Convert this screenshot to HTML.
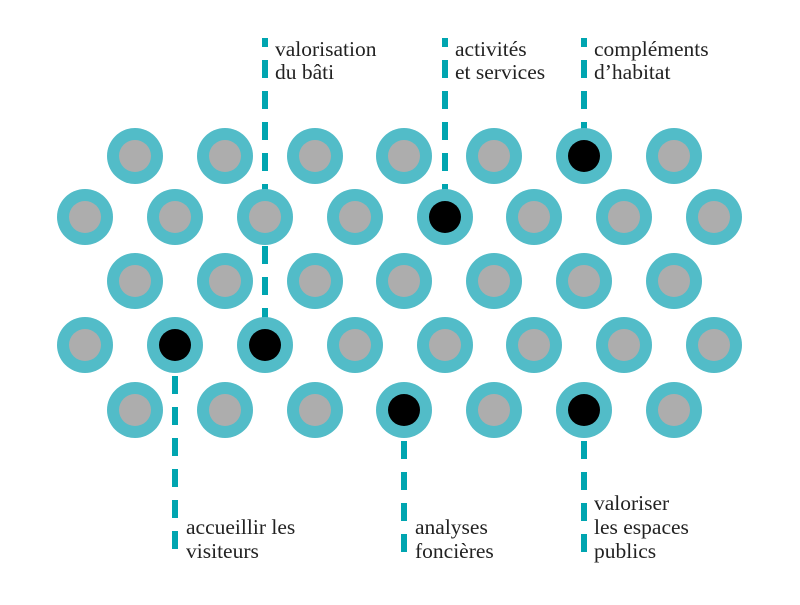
<!DOCTYPE html>
<html><head><meta charset="utf-8"><style>html,body{margin:0;padding:0;background:#fff}</style></head>
<body>
<svg width="800" height="600" viewBox="0 0 800 600" xmlns="http://www.w3.org/2000/svg">
<g stroke="#00a5b0" stroke-width="6" stroke-dasharray="18 13" fill="none">
<line x1="265" y1="38" x2="265" y2="345" stroke-dashoffset="9"/>
<line x1="445" y1="38" x2="445" y2="217" stroke-dashoffset="9"/>
<line x1="584" y1="38" x2="584" y2="156" stroke-dashoffset="9"/>
<line x1="175" y1="345" x2="175" y2="562"/>
<line x1="404" y1="410" x2="404" y2="562"/>
<line x1="584" y1="410" x2="584" y2="562"/>
</g>
<g font-family="'Liberation Serif', serif" font-size="21.5" fill="#222">
<text x="275" y="56">valorisation</text><text x="275" y="79">du bâti</text>
<text x="455" y="56">activités</text><text x="455" y="79">et services</text>
<text x="594" y="56">compléments</text><text x="594" y="79">d’habitat</text>
<text x="186" y="534">accueillir les</text><text x="186" y="558">visiteurs</text>
<text x="415" y="534">analyses</text><text x="415" y="558">foncières</text>
<text x="594" y="510">valoriser</text><text x="594" y="534">les espaces</text><text x="594" y="558">publics</text>
</g>
<g>
<circle cx="135" cy="156" r="28" fill="#52bcc8"/><circle cx="135" cy="156" r="16" fill="#adadad"/>
<circle cx="225" cy="156" r="28" fill="#52bcc8"/><circle cx="225" cy="156" r="16" fill="#adadad"/>
<circle cx="315" cy="156" r="28" fill="#52bcc8"/><circle cx="315" cy="156" r="16" fill="#adadad"/>
<circle cx="404" cy="156" r="28" fill="#52bcc8"/><circle cx="404" cy="156" r="16" fill="#adadad"/>
<circle cx="494" cy="156" r="28" fill="#52bcc8"/><circle cx="494" cy="156" r="16" fill="#adadad"/>
<circle cx="584" cy="156" r="28" fill="#52bcc8"/><circle cx="584" cy="156" r="16" fill="#000"/>
<circle cx="674" cy="156" r="28" fill="#52bcc8"/><circle cx="674" cy="156" r="16" fill="#adadad"/>
<circle cx="85" cy="217" r="28" fill="#52bcc8"/><circle cx="85" cy="217" r="16" fill="#adadad"/>
<circle cx="175" cy="217" r="28" fill="#52bcc8"/><circle cx="175" cy="217" r="16" fill="#adadad"/>
<circle cx="265" cy="217" r="28" fill="#52bcc8"/><circle cx="265" cy="217" r="16" fill="#adadad"/>
<circle cx="355" cy="217" r="28" fill="#52bcc8"/><circle cx="355" cy="217" r="16" fill="#adadad"/>
<circle cx="445" cy="217" r="28" fill="#52bcc8"/><circle cx="445" cy="217" r="16" fill="#000"/>
<circle cx="534" cy="217" r="28" fill="#52bcc8"/><circle cx="534" cy="217" r="16" fill="#adadad"/>
<circle cx="624" cy="217" r="28" fill="#52bcc8"/><circle cx="624" cy="217" r="16" fill="#adadad"/>
<circle cx="714" cy="217" r="28" fill="#52bcc8"/><circle cx="714" cy="217" r="16" fill="#adadad"/>
<circle cx="135" cy="281" r="28" fill="#52bcc8"/><circle cx="135" cy="281" r="16" fill="#adadad"/>
<circle cx="225" cy="281" r="28" fill="#52bcc8"/><circle cx="225" cy="281" r="16" fill="#adadad"/>
<circle cx="315" cy="281" r="28" fill="#52bcc8"/><circle cx="315" cy="281" r="16" fill="#adadad"/>
<circle cx="404" cy="281" r="28" fill="#52bcc8"/><circle cx="404" cy="281" r="16" fill="#adadad"/>
<circle cx="494" cy="281" r="28" fill="#52bcc8"/><circle cx="494" cy="281" r="16" fill="#adadad"/>
<circle cx="584" cy="281" r="28" fill="#52bcc8"/><circle cx="584" cy="281" r="16" fill="#adadad"/>
<circle cx="674" cy="281" r="28" fill="#52bcc8"/><circle cx="674" cy="281" r="16" fill="#adadad"/>
<circle cx="85" cy="345" r="28" fill="#52bcc8"/><circle cx="85" cy="345" r="16" fill="#adadad"/>
<circle cx="175" cy="345" r="28" fill="#52bcc8"/><circle cx="175" cy="345" r="16" fill="#000"/>
<circle cx="265" cy="345" r="28" fill="#52bcc8"/><circle cx="265" cy="345" r="16" fill="#000"/>
<circle cx="355" cy="345" r="28" fill="#52bcc8"/><circle cx="355" cy="345" r="16" fill="#adadad"/>
<circle cx="445" cy="345" r="28" fill="#52bcc8"/><circle cx="445" cy="345" r="16" fill="#adadad"/>
<circle cx="534" cy="345" r="28" fill="#52bcc8"/><circle cx="534" cy="345" r="16" fill="#adadad"/>
<circle cx="624" cy="345" r="28" fill="#52bcc8"/><circle cx="624" cy="345" r="16" fill="#adadad"/>
<circle cx="714" cy="345" r="28" fill="#52bcc8"/><circle cx="714" cy="345" r="16" fill="#adadad"/>
<circle cx="135" cy="410" r="28" fill="#52bcc8"/><circle cx="135" cy="410" r="16" fill="#adadad"/>
<circle cx="225" cy="410" r="28" fill="#52bcc8"/><circle cx="225" cy="410" r="16" fill="#adadad"/>
<circle cx="315" cy="410" r="28" fill="#52bcc8"/><circle cx="315" cy="410" r="16" fill="#adadad"/>
<circle cx="404" cy="410" r="28" fill="#52bcc8"/><circle cx="404" cy="410" r="16" fill="#000"/>
<circle cx="494" cy="410" r="28" fill="#52bcc8"/><circle cx="494" cy="410" r="16" fill="#adadad"/>
<circle cx="584" cy="410" r="28" fill="#52bcc8"/><circle cx="584" cy="410" r="16" fill="#000"/>
<circle cx="674" cy="410" r="28" fill="#52bcc8"/><circle cx="674" cy="410" r="16" fill="#adadad"/>
</g>
</svg>
</body></html>
